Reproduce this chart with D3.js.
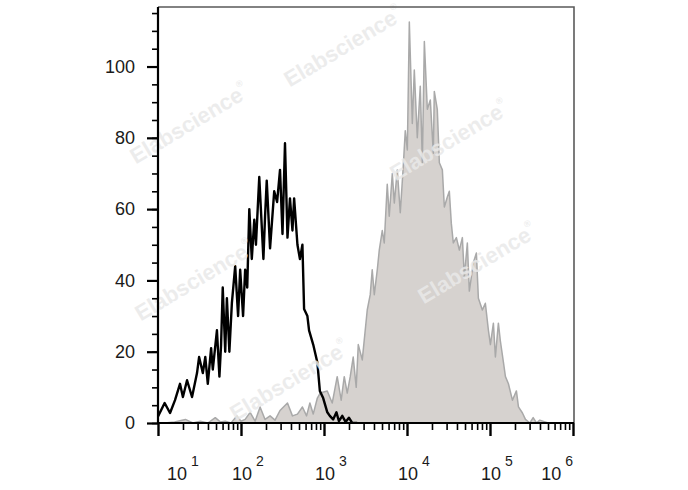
<!DOCTYPE html>
<html><head><meta charset="utf-8">
<script src="https://cdn.jsdelivr.net/npm/d3@7"></script>
<style>
body{margin:0;background:#fff;}
svg{display:block;font-family:"Liberation Sans",Arial,Helvetica,sans-serif;}
</style>
</head><body>
<svg id="c" width="688" height="490"></svg>
<script>
// ---- data (log10 fluorescence intensity, event count) ----
const blackExp=[1.00,1.08,1.145,1.205,1.265,1.30,1.35,1.41,1.47,1.495,1.54,1.57,1.60,1.64,1.66,1.71,1.74,1.76,1.78,1.81,1.83,1.86,1.89,1.93,1.965,1.99,2.025,2.05,2.075,2.10,2.13,2.16,2.18,2.22,2.27,2.29,2.31,2.35,2.40,2.435,2.47,2.50,2.53,2.56,2.59,2.62,2.64,2.68,2.71,2.74,2.76,2.80,2.82,2.87,2.92,2.95,2.99,3.04,3.07,3.11,3.15,3.18,3.22,3.26,3.30,3.34,3.40];
const blackCount=[1.8,5.6,2.8,6.4,11,7.3,12,7.3,14,18.5,14,18.5,11,21,15,26,13,22,38,20,35,20,33.6,44,30,43,30,43,38,60,46,57,50,69,46,58,68,49,65,62,71,53,78.5,52,63,54,63,50,46,50,32,30,26,22,17,9,7,3,2,1,3,0.5,2,0.3,1.5,0,0];
const grayExp=[1.00,1.08,1.20,1.33,1.42,1.51,1.60,1.69,1.75,1.81,1.88,1.95,2.00,2.05,2.11,2.17,2.23,2.29,2.35,2.41,2.47,2.56,2.62,2.68,2.74,2.79,2.83,2.87,2.92,2.954,3.039,3.099,3.159,3.207,3.244,3.280,3.316,3.352,3.388,3.413,3.461,3.521,3.557,3.581,3.606,3.642,3.666,3.702,3.726,3.762,3.786,3.823,3.847,3.883,3.919,3.955,3.979,4.004,4.028,4.064,4.088,4.124,4.160,4.185,4.209,4.245,4.281,4.317,4.329,4.365,4.390,4.426,4.450,4.486,4.510,4.534,4.558,4.595,4.631,4.667,4.691,4.727,4.751,4.800,4.836,4.860,4.908,4.944,4.981,5.005,5.041,5.065,5.101,5.125,5.162,5.186,5.222,5.270,5.318,5.343,5.391,5.427,5.48,5.52,5.56,5.60,5.70,6.0];
const grayCount=[0,0,0.3,1,0,0.5,0,1.5,0.3,0.5,0,2,0.5,1,3,0.5,4.5,1,2,0.8,3.5,5.6,2,2.5,4.5,2,5.6,2.5,7,8.4,9,5.6,13,6.4,13,8.4,13,18.5,10,22,17.7,31.7,36,43,36,43,48.5,54,50.5,67,58,70,61.7,71,59,72,82,76.6,112.5,84,99,80,94.5,73,107,88,90.6,75.7,93,88,73,71,60.6,63.4,65,56,50.5,52,48.5,52,41,50.5,37,45,47.7,35,31.7,33.6,26,22,28,18.5,28,23,17,13,11,6.4,9,4.5,2.8,1,0,1.5,0,0.8,0,0];
const yTicks=[0,20,40,60,80,100];
const yMinorStep=5;
const xDecades=[10,100,1000,10000,100000,1000000];
const xExponentLabels=["1","2","3","4","5","6"];
const watermark="Elabscience";

// ---- layout ----
const L=158,R=574,T=7,B=423;
const svg=d3.select("#c");
const x=d3.scaleLog().domain([10,1e6]).range([L,573]);
const y=d3.scaleLinear().domain([0,116.7]).range([B,T]);

const black=blackExp.map((e,i)=>({v:Math.pow(10,e),c:blackCount[i]}));
const gray=grayExp.map((e,i)=>({v:Math.pow(10,e),c:grayCount[i]}));

svg.append("clipPath").attr("id","clip").append("rect")
  .attr("x",L).attr("y",T).attr("width",R-L).attr("height",B-T);
const plot=svg.append("g").attr("clip-path","url(#clip)");

plot.append("path").datum(gray)
  .attr("d",d3.area().x(d=>x(d.v)).y0(y(0)).y1(d=>y(d.c)))
  .attr("fill","#d6d2cf").attr("stroke","#a9a9a9").attr("stroke-width",1.5)
  .attr("stroke-linejoin","round");

plot.append("path").datum(black)
  .attr("d",d3.line().x(d=>x(d.v)).y(d=>y(d.c)))
  .attr("fill","none").attr("stroke","#000").attr("stroke-width",2.4)
  .attr("stroke-linejoin","round");

// watermarks
const wm=[[344,48],[190,125],[450,142],[195,282],[478,265],[290,382]];
wm.forEach(([cx,cy])=>{
  const t=svg.append("text").attr("transform",`translate(${cx},${cy}) rotate(-31)`)
    .attr("text-anchor","middle").attr("dominant-baseline","middle")
    .attr("font-size",22).attr("font-weight","bold")
    .attr("fill","#e9e9e9").attr("fill-opacity",0.85);
  t.append("tspan").text(watermark);
  t.append("tspan").attr("font-size",9).attr("dy",-9).text("®");
});

// frame (top/right)
svg.append("path").attr("d",`M${L},${T}H${R}V${B}`)
  .attr("fill","none").attr("stroke","#5a5a5a").attr("stroke-width",1.6);

// y axis
const yMinor=svg.append("g").attr("transform",`translate(${L},0)`)
  .call(d3.axisLeft(y).tickValues(d3.range(0,116,yMinorStep)).tickSize(6).tickFormat(""));
const yMajor=svg.append("g").attr("transform",`translate(${L},0)`)
  .call(d3.axisLeft(y).tickValues(yTicks).tickSize(11).tickPadding(12).tickFormat(d3.format("d")));
[yMinor,yMajor].forEach(g=>{g.select(".domain").remove();});
yMinor.selectAll("line").attr("stroke","#000").attr("stroke-width",1.6);
yMajor.selectAll("line").attr("stroke","#000").attr("stroke-width",2.2);
yMajor.selectAll("text").attr("font-size",18).attr("fill","#1a1a1a")
  .attr("font-family","'Liberation Sans',Arial,sans-serif");

// x axis
const minorVals=[];
xDecades.slice(0,-1).forEach(d=>{for(let k=2;k<=9;k++)minorVals.push(d*k);});
const xMinor=svg.append("g").attr("transform",`translate(0,${B})`)
  .call(d3.axisBottom(x).tickValues(minorVals).tickSize(7).tickFormat(""));
const xMajor=svg.append("g").attr("transform",`translate(0,${B})`)
  .call(d3.axisBottom(x).tickValues(xDecades).tickSize(13).tickFormat(""));
[xMinor,xMajor].forEach(g=>g.select(".domain").remove());
xMinor.selectAll("line").attr("stroke","#000").attr("stroke-width",1.6);
xMajor.selectAll("line").attr("stroke","#000").attr("stroke-width",2.4);

// axis lines
svg.append("path").attr("d",`M${L},${T}V${B}H${R}`)
  .attr("fill","none").attr("stroke","#000").attr("stroke-width",2.2);

// x tick labels 10^n
const n=xDecades.length;
xDecades.forEach((d,i)=>{
  const tx=x(d);
  let anchor="start", px=tx-9;
  if(i===0){px=tx+9;}
  if(i===n-1){anchor="end";px=tx;}
  const t=svg.append("text").attr("x",px).attr("y",480).attr("text-anchor",anchor)
    .attr("fill","#1a1a1a");
  t.append("tspan").attr("font-size",18).text("10");
  t.append("tspan").attr("font-size",14).attr("dx",4).attr("dy",-14).text(xExponentLabels[i]);
});
</script>
</body></html>
